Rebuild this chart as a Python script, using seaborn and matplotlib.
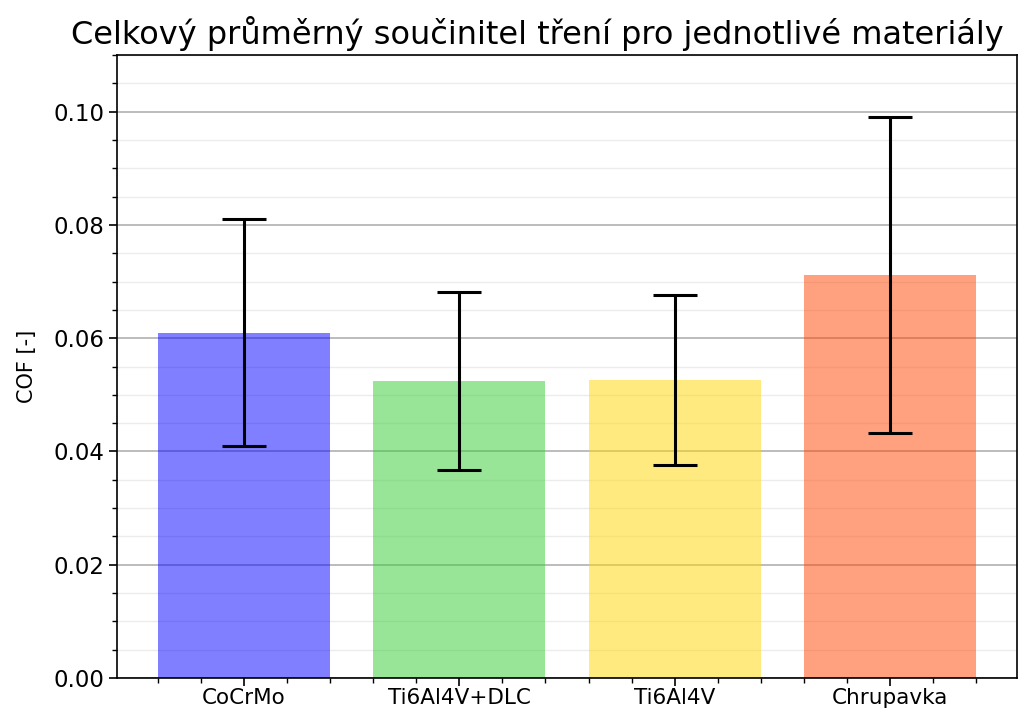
import matplotlib
matplotlib.use("Agg")
import matplotlib.pyplot as plt
from matplotlib.ticker import AutoMinorLocator, MultipleLocator, FormatStrFormatter
import seaborn as sns

materials = ["CoCrMo", "Ti6Al4V+DLC", "Ti6Al4V", "Chrupavka"]
cof_mean = [0.0610, 0.0525, 0.0526, 0.0711]
cof_std = [0.0200, 0.0157, 0.0150, 0.0279]
bar_colors = ["blue", "limegreen", "gold", "orangered"]

sns.set_style("white")
plt.rcParams["font.family"] = ["DejaVu Sans"]
plt.rcParams["text.color"] = "black"
plt.rcParams["axes.labelcolor"] = "black"
plt.rcParams["xtick.color"] = "black"
plt.rcParams["ytick.color"] = "black"

fig = plt.figure(figsize=(10.29, 7.13), dpi=100)
ax = fig.add_axes([117 / 1029, 1 - 678 / 713, (1017 - 117) / 1029, (678 - 55) / 713])

sns.barplot(x=materials, y=cof_mean, hue=materials, palette=bar_colors,
            saturation=1, alpha=0.5, errorbar=None, width=0.8, legend=False,
            linewidth=0, ax=ax, zorder=2)
ax.errorbar(range(len(materials)), cof_mean, yerr=cof_std, fmt="none",
            ecolor="black", elinewidth=2.2, capsize=15.5, capthick=2.2, zorder=3)

ax.set_xlim(-0.59, 3.59)
ax.set_ylim(0, 0.11)
ax.yaxis.set_major_locator(MultipleLocator(0.02))
ax.yaxis.set_minor_locator(MultipleLocator(0.005))
ax.xaxis.set_minor_locator(AutoMinorLocator(5))
ax.yaxis.set_major_formatter(FormatStrFormatter("%.2f"))

ax.grid(axis="y", which="major", color="#b0b0b0", linewidth=1.2, zorder=0)
ax.grid(axis="y", which="minor", color="#ececec", linewidth=1.0, zorder=0)
ax.set_axisbelow(True)

for s in ax.spines.values():
    s.set_color("black")
    s.set_linewidth(1.2)
ax.tick_params(axis="both", which="major", direction="out", length=5.5, width=1.2,
               color="black", labelcolor="black", labelsize=16.5,
               bottom=True, left=True)
ax.tick_params(axis="both", which="minor", direction="out", length=3.5, width=1,
               color="black", bottom=True, left=True)
ax.tick_params(axis="x", labelsize=15.5, pad=2)

ax.set_xlabel("")
ax.set_ylabel("COF [-]", fontsize=15, labelpad=12, color="black")
ax.set_title("Celkový průměrný součinitel tření pro jednotlivé materiály",
             fontsize=23, x=0.467, pad=8, color="black")

fig.savefig("out.png", dpi=100)
